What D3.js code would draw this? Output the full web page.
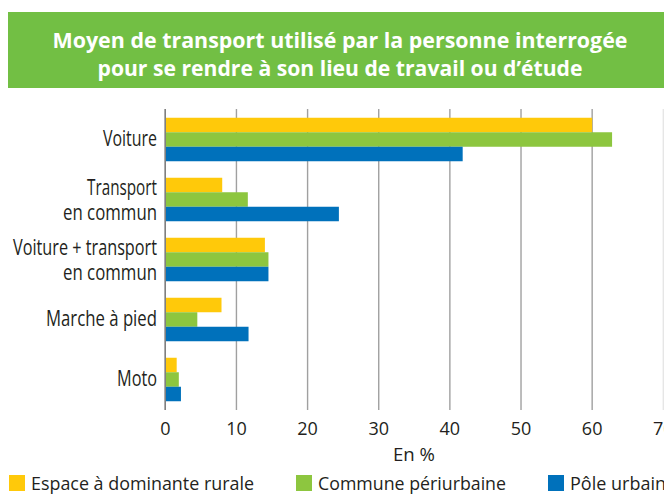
<!DOCTYPE html>
<html>
<head>
<meta charset="utf-8">
<script src="https://cdn.jsdelivr.net/npm/d3@7"></script>
<style>
  body { margin: 0; background: #fff; }
  text { font-family: "Open Sans", "DejaVu Sans", sans-serif; }
</style>
</head>
<body>
<svg id="chart" width="664" height="494"></svg>
<script>
// data
let categories = [["Voiture"], ["Transport", "en commun"], ["Voiture + transport", "en commun"], ["Marche à pied"], ["Moto"]];
let series = ["Espace à dominante rurale", "Commune périurbaine", "Pôle urbain"];
let rurale = [60, 8, 14, 7.9, 1.6];
let periurbaine = [62.8, 11.6, 14.5, 4.5, 1.9];
let urbain = [41.8, 24.4, 14.5, 11.7, 2.2];
let ticks = [0, 10, 20, 30, 40, 50, 60, 70];
let colors = ["#ffc90a", "#8dc63f", "#0071bb"];

// widths of the label texts as they appear (condensed font in the original)
let labelWidths = {"Voiture": 54, "Transport": 70, "en commun": 94, "Voiture + transport": 144,
    "Marche à pied": 111, "Moto": 40};
let legendWidths = [223, 188, 96];

let svg = d3.select("#chart");

// title banner
svg.append("rect")
    .attr("x", 8).attr("y", 12)
    .attr("width", 656).attr("height", 76)
    .attr("fill", "#72bf44");
let titleLines = [
    {"text": "Moyen de transport utilisé par la personne interrogée", "y": 48, "len": 575},
    {"text": "pour se rendre à son lieu de travail ou d’étude", "y": 76, "len": 485}
];
svg.selectAll(".title").data(titleLines).join("text")
    .attr("class", "title")
    .attr("x", 340).attr("y", d => d.y)
    .attr("text-anchor", "middle")
    .attr("fill", "#fff")
    .attr("font-weight", "bold")
    .attr("font-size", 22)
    .attr("textLength", d => d.len)
    .attr("lengthAdjust", "spacingAndGlyphs")
    .text(d => d.text);

let x = d3.scaleLinear().domain([0, 70]).range([165.3, 663.3]);
let y = d3.scaleBand().domain(d3.range(categories.length))
    .range([109.5, 409.5]).paddingInner(0.275).paddingOuter(0.1375);
let sub = d3.scaleBand().domain(d3.range(series.length)).range([0, y.bandwidth()]);

// gridlines
svg.selectAll(".grid").data(ticks).join("line")
    .attr("class", "grid")
    .attr("x1", d => x(d)).attr("x2", d => x(d))
    .attr("y1", 109).attr("y2", 410)
    .attr("stroke", d => d === 70 ? "#e6e6e6" : (d === 0 ? "#808080" : "#a0a0a0"))
    .attr("stroke-width", 1.4);

// bars
let allSeries = [rurale, periurbaine, urbain];
allSeries.forEach((values, s) => {
    svg.selectAll(".bar" + s).data(values).join("rect")
        .attr("class", "bar" + s)
        .attr("x", x(0))
        .attr("y", (d, i) => y(i) + sub(s))
        .attr("width", d => x(d) - x(0))
        .attr("height", sub.bandwidth())
        .attr("fill", colors[s]);
});

// redraw zero line over bars
svg.append("line")
    .attr("x1", x(0)).attr("x2", x(0))
    .attr("y1", 109).attr("y2", 410)
    .attr("stroke", "#808080").attr("stroke-width", 1.4);

// category labels
categories.forEach((lines, i) => {
    let c = y(i) + y.bandwidth() / 2;
    let offsets = lines.length === 1 ? [6.5] : [-4.5, 20.5];
    lines.forEach((l, j) => {
        svg.append("text")
            .attr("x", 157).attr("y", c + offsets[j])
            .attr("text-anchor", "end")
            .attr("font-size", 21)
            .attr("fill", "#231f20")
            .attr("textLength", labelWidths[l])
            .attr("lengthAdjust", "spacingAndGlyphs")
            .text(l);
    });
});

// tick labels
svg.selectAll(".tick").data(ticks).join("text")
    .attr("class", "tick")
    .attr("x", d => x(d)).attr("y", 435)
    .attr("text-anchor", "middle")
    .attr("font-size", 18)
    .attr("fill", "#231f20")
    .text(d => d);

svg.append("text")
    .attr("x", 414).attr("y", 461)
    .attr("text-anchor", "middle")
    .attr("font-size", 18)
    .attr("fill", "#231f20")
    .attr("textLength", 42)
    .attr("lengthAdjust", "spacingAndGlyphs")
    .text("En %");

// legend
let legendX = [9, 296, 548];
series.forEach((name, s) => {
    svg.append("rect")
        .attr("x", legendX[s]).attr("y", 475)
        .attr("width", 16).attr("height", 16)
        .attr("fill", colors[s]);
    svg.append("text")
        .attr("x", legendX[s] + 22).attr("y", 490)
        .attr("font-size", 18.5)
        .attr("fill", "#231f20")
        .attr("textLength", legendWidths[s])
        .attr("lengthAdjust", "spacingAndGlyphs")
        .text(name);
});
</script>
</body>
</html>
